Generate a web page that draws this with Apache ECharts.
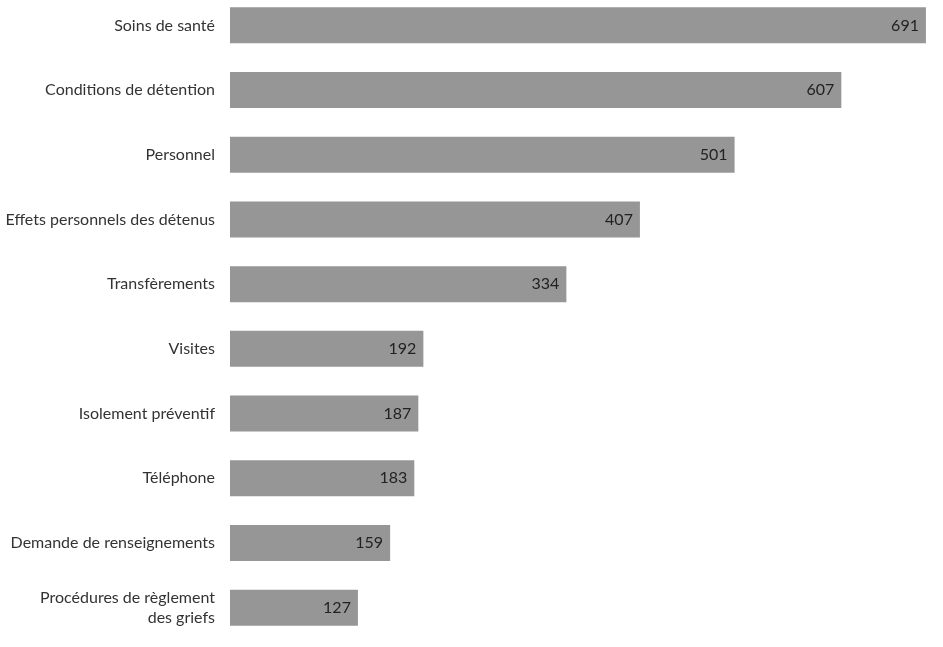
<!DOCTYPE html>
<html><head><meta charset="utf-8">
<script src="https://cdn.jsdelivr.net/npm/echarts@6/dist/echarts.min.js"></script>
<style>html,body{margin:0;padding:0;background:#fff}#c{width:943px;height:647px}</style>
</head><body><div id="c"></div>
<script>
const categories = ["Soins de santé","Conditions de détention","Personnel","Effets personnels des détenus","Transfèrements","Visites","Isolement préventif","Téléphone","Demande de renseignements","Procédures de règlement\ndes griefs"];
const values = [691,607,501,407,334,192,187,183,159,127];
const chart = echarts.init(document.getElementById('c'));
chart.setOption({
  animation:false,
  grid:{left:230,right:8,top:-7,bottom:7,containLabel:false,outerBoundsMode:'none'},
  xAxis:{type:'value',min:0,max:700,show:false},
  yAxis:{type:'category',inverse:true,data:categories,
    axisLine:{show:false},axisTick:{show:false},
    axisLabel:{margin:15,fontFamily:'Lato',fontSize:16,color:'#333',lineHeight:20}},
  series:[{type:'bar',data:values,barWidth:36,itemStyle:{color:'#969696'},
    label:{show:true,position:'insideRight',distance:7,fontFamily:'Lato',fontSize:16,color:'#222'}}]
});
</script></body></html>
